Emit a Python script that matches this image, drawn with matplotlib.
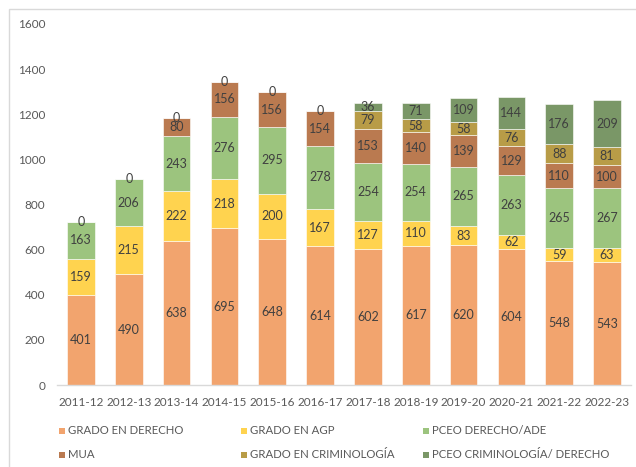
import matplotlib
matplotlib.use("Agg")
import matplotlib.pyplot as plt
from matplotlib.patches import Rectangle
import numpy as np

plt.rcParams['font.family'] = ['Lato', 'DejaVu Sans']

years = ["2011-12", "2012-13", "2013-14", "2014-15", "2015-16", "2016-17",
         "2017-18", "2018-19", "2019-20", "2020-21", "2021-22", "2022-23"]

grado_derecho = [401, 490, 638, 695, 648, 614, 602, 617, 620, 604, 548, 543]
grado_agp = [159, 215, 222, 218, 200, 167, 127, 110, 83, 62, 59, 63]
pceo_derecho_ade = [163, 206, 243, 276, 295, 278, 254, 254, 265, 263, 265, 267]
mua = [0, 0, 80, 156, 156, 154, 153, 140, 139, 129, 110, 100]
grado_criminologia = [None, None, 0, 0, 0, 0, 79, 58, 58, 76, 88, 81]
pceo_criminologia_derecho = [None, None, None, None, None, None, 36, 71, 109, 144, 176, 209]

series = [
    ("GRADO EN DERECHO", grado_derecho, "#F2A46E"),
    ("GRADO EN AGP", grado_agp, "#FFD34F"),
    ("PCEO DERECHO/ADE", pceo_derecho_ade, "#9CC47E"),
    ("MUA", mua, "#BA7A50"),
    ("GRADO EN CRIMINOLOGÍA", grado_criminologia, "#B89C47"),
    ("PCEO CRIMINOLOGÍA/ DERECHO", pceo_criminologia_derecho, "#7A9767"),
]

W, H = 636, 467
fig = plt.figure(figsize=(W / 100, H / 100), dpi=100)
ax = fig.add_axes([57 / W, 1 - 385 / H, (631 - 57) / W, (385 - 24) / H])

x = np.arange(len(years))
bottom = np.zeros(len(years))
for name, vals, color in series:
    mask = np.array([v is not None for v in vals])
    v = np.array([0 if val is None else val for val in vals], dtype=float)
    ax.bar(x[mask], v[mask], bottom=bottom[mask], width=0.575,
           color=color, edgecolor="white", linewidth=0.4, label=name)
    for xi, vi, bi in zip(x[mask], v[mask], bottom[mask]):
        ax.text(xi, bi + vi / 2, f"{int(vi)}", ha="center", va="center",
                fontsize=9, color="#404040")
    bottom = bottom + v

ax.set_xlim(-0.5, len(years) - 0.5)
ax.set_ylim(0, 1600)
ax.set_yticks(range(0, 1601, 200))
ax.set_xticks(x)
ax.set_xticklabels(years)
ax.tick_params(axis="both", length=0, labelsize=8.5, colors="#595959")
ax.tick_params(axis="y", pad=8.5)
ax.tick_params(axis="x", pad=9)
for s in ["top", "right", "left"]:
    ax.spines[s].set_visible(False)
ax.spines["bottom"].set_color("#D9D9D9")
ax.spines["bottom"].set_linewidth(1.0)

# chart frame
fig.patches.append(Rectangle((9 / W, -0.1), 1.2, 1 - 9 / H + 0.1,
                             transform=fig.transFigure, fill=False,
                             edgecolor="#D9D9D9", linewidth=1.0))

# legend: three columns, two rows, filled row by row
col_x = [59, 241, 423]
row_y = [431, 455]
for i, (name, _, color) in enumerate(series):
    cx = col_x[i % 3]
    cy = row_y[i // 3]
    fig.patches.append(Rectangle((cx / W, 1 - (cy + 3) / H), 6 / W, 6 / H,
                                 transform=fig.transFigure, facecolor=color,
                                 edgecolor="none"))
    fig.text((cx + 9) / W, 1 - cy / H, name, ha="left", va="center",
             fontsize=8.2, color="#595959")

fig.savefig("out.png", dpi=100)
